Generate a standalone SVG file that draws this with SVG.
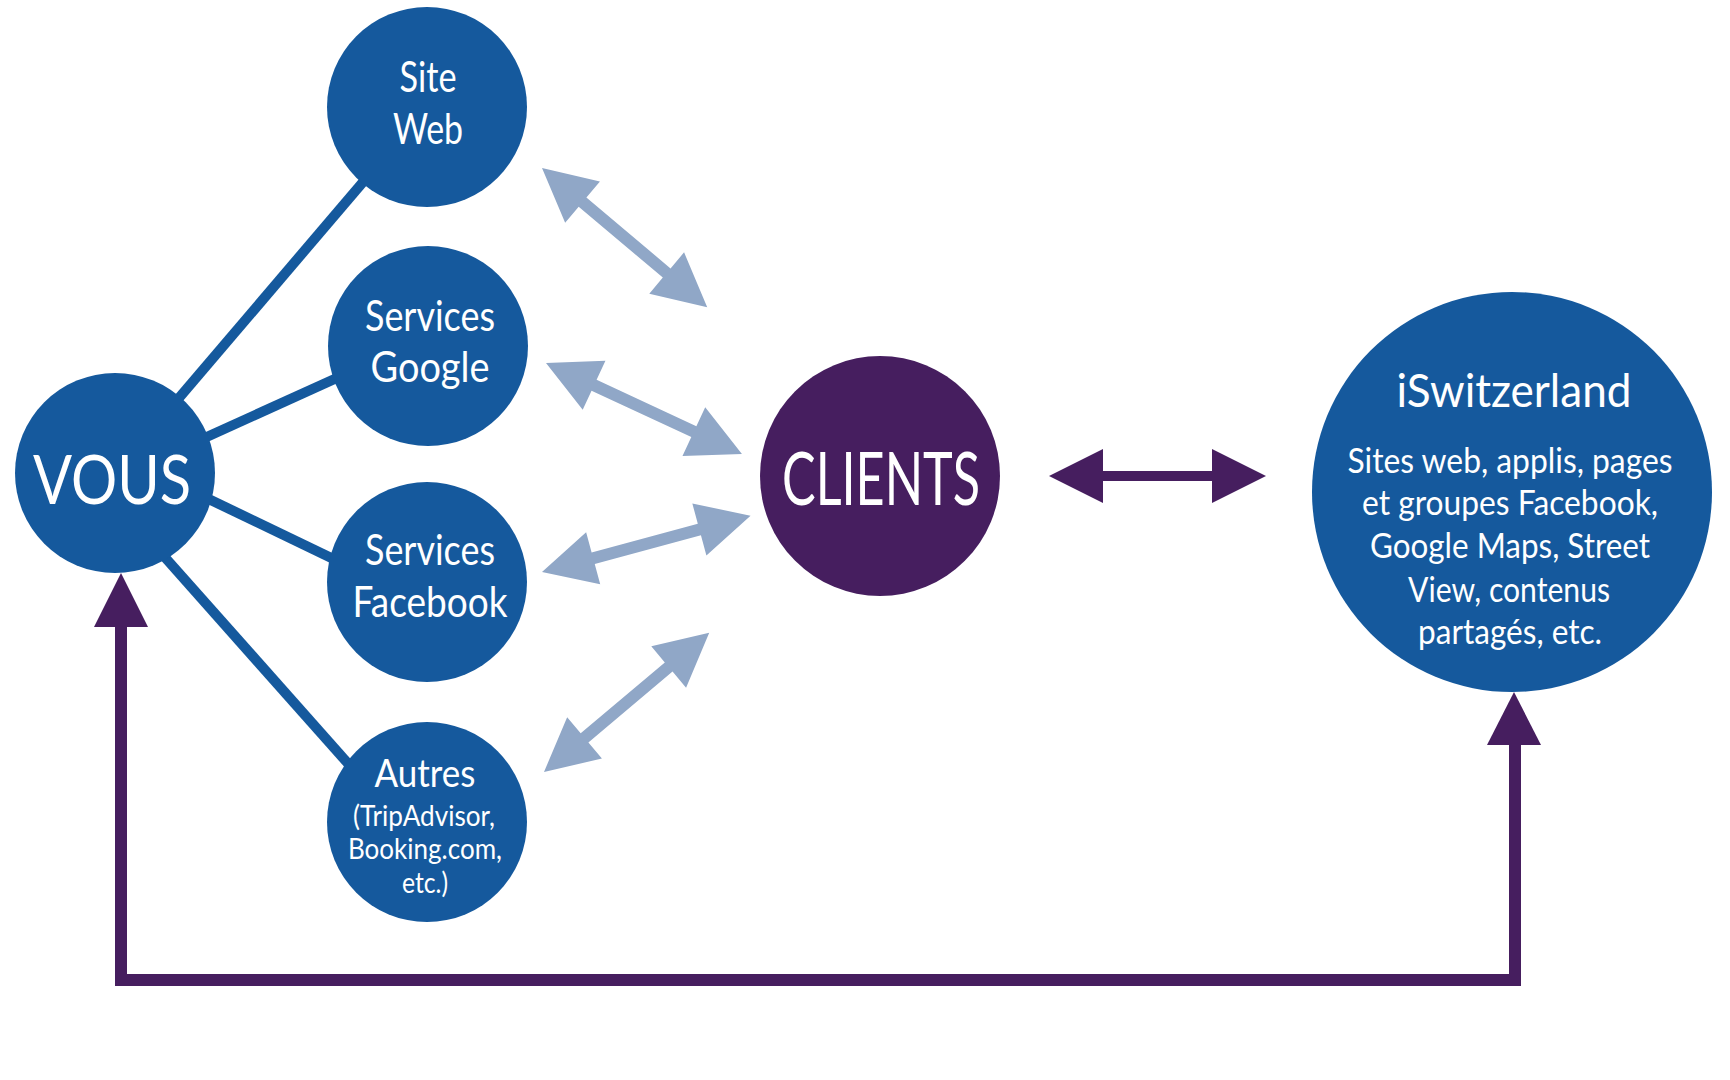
<svg xmlns="http://www.w3.org/2000/svg" width="1730" height="1080" viewBox="0 0 1730 1080">
<style>
.node{fill:#15599D}
.clients{fill:#461E5F}
.t{fill:#FFFFFF;font-family:"Lato","Open Sans","Liberation Sans",sans-serif;font-weight:400;text-anchor:middle}
.link{stroke:#15599D;stroke-width:10;fill:none}
.arr{fill:#90A7C7}
.pur{fill:#461E5F}
.purline{stroke:#461E5F;stroke-width:12;fill:none;stroke-linejoin:miter}
</style>
<defs>
<path id="dbl" d="M0,0 L53,-27 L53,-6 L163,-6 L163,-27 L216,0 L163,27 L163,6 L53,6 L53,27 Z"/>
</defs>
<g id="connectors">
<line class="link" x1="167" y1="412" x2="375" y2="168"/>
<line class="link" x1="189" y1="445" x2="350" y2="372"/>
<line class="link" x1="192" y1="491" x2="348" y2="566"/>
<line class="link" x1="154" y1="545" x2="360" y2="777"/>
<use href="#dbl" class="arr" transform="translate(542,168) rotate(40.1)"/>
<use href="#dbl" class="arr" transform="translate(546,363) rotate(24.9)"/>
<use href="#dbl" class="arr" transform="translate(542,572) rotate(-15.1)"/>
<use href="#dbl" class="arr" transform="translate(544,772) rotate(-40.1)"/>
<path class="pur" d="M1049,476 L1103,449 L1103,471 L1212,471 L1212,449 L1266,476 L1212,503 L1212,481 L1103,481 L1103,503 Z"/>
<path class="purline" d="M121,620 V980 H1515 V740"/>
<polygon class="pur" points="121,573 94,627 148,627"/>
<polygon class="pur" points="1514,692 1487,745 1541,745"/>
</g>
<g id="vous">
<circle class="node" cx="115" cy="473" r="100"/>
<text class="t" x="112" y="504" font-size="68" textLength="158" lengthAdjust="spacingAndGlyphs">VOUS</text>
</g>
<g id="site-web">
<circle class="node" cx="427" cy="107" r="100"/>
<text class="t" x="428" y="92" font-size="42" textLength="57" lengthAdjust="spacingAndGlyphs">Site</text>
<text class="t" x="428" y="144" font-size="42" textLength="70" lengthAdjust="spacingAndGlyphs">Web</text>
</g>
<g id="services-google">
<circle class="node" cx="428" cy="346" r="100"/>
<text class="t" x="430" y="331" font-size="42" textLength="130" lengthAdjust="spacingAndGlyphs">Services</text>
<text class="t" x="430" y="382" font-size="42" textLength="119" lengthAdjust="spacingAndGlyphs">Google</text>
</g>
<g id="services-facebook">
<circle class="node" cx="427" cy="582" r="100"/>
<text class="t" x="430" y="565" font-size="42" textLength="130" lengthAdjust="spacingAndGlyphs">Services</text>
<text class="t" x="430" y="617" font-size="42" textLength="155" lengthAdjust="spacingAndGlyphs">Facebook</text>
</g>
<g id="autres">
<circle class="node" cx="427" cy="822" r="100"/>
<text class="t" x="425" y="787" font-size="38" textLength="101" lengthAdjust="spacingAndGlyphs">Autres</text>
<text class="t" x="424" y="826" font-size="28" textLength="142" lengthAdjust="spacingAndGlyphs">(TripAdvisor,</text>
<text class="t" x="425" y="859" font-size="28" textLength="154" lengthAdjust="spacingAndGlyphs">Booking.com,</text>
<text class="t" x="425" y="893" font-size="28" textLength="46" lengthAdjust="spacingAndGlyphs">etc.)</text>
</g>
<g id="clients">
<circle class="clients" cx="880" cy="476" r="120"/>
<text class="t" x="881" y="505" font-size="73" textLength="198" lengthAdjust="spacingAndGlyphs">CLIENTS</text>
</g>
<g id="iswitzerland">
<circle class="node" cx="1512" cy="492" r="200"/>
<text class="t" x="1514" y="407" font-size="46" textLength="235" lengthAdjust="spacingAndGlyphs">iSwitzerland</text>
<text class="t" x="1510" y="473" font-size="34" textLength="325" lengthAdjust="spacingAndGlyphs">Sites web, applis, pages</text>
<text class="t" x="1510" y="515" font-size="34" textLength="296" lengthAdjust="spacingAndGlyphs">et groupes Facebook,</text>
<text class="t" x="1510" y="558" font-size="34" textLength="280" lengthAdjust="spacingAndGlyphs">Google Maps, Street</text>
<text class="t" x="1509" y="602" font-size="34" textLength="202" lengthAdjust="spacingAndGlyphs">View, contenus</text>
<text class="t" x="1510" y="644" font-size="34" textLength="184" lengthAdjust="spacingAndGlyphs">partagés, etc.</text>
</g>
</svg>
